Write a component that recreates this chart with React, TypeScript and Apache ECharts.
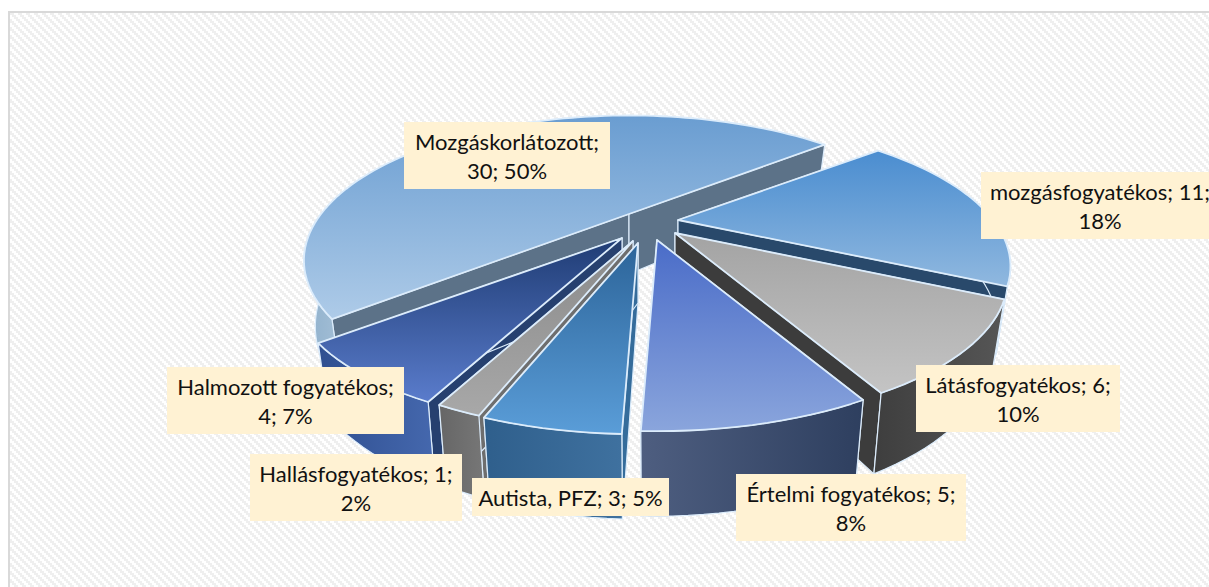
import React, { useEffect, useRef } from "react";
import * as echarts from "echarts";

const categories = ["Mozgáskorlátozott", "mozgásfogyatékos", "Látásfogyatékos", "Értelmi fogyatékos", "Autista, PFZ", "Hallásfogyatékos", "Halmozott fogyatékos"];
const values = [30, 11, 6, 5, 3, 1, 4];
const percents = [50, 18, 10, 8, 5, 2, 7];
const breakAfter = [1, 2, 2, 2, 3, 2, 1];

const apexes = [[629, 214], [678, 220], [675, 233], [657, 240], [638, 243], [633, 241], [622, 238]];
const radiiX = [308, 315, 315, 315, 315, 315, 315];
const paintOrder = [0, 1, 2, 6, 5, 4, 3];
const labelBoxes = [[404, 122, 206, 67], [981, 172, 260, 67], [916, 365, 204, 67], [736, 474, 230, 67], [472, 478, 197, 38], [250, 454, 212, 67], [167, 367, 237, 67]];
const labelCenters = [507, 1100, 1018, 851, 570.5, 356, 285.5];
const topColors = [["#6a9dd1", "#aecbe8"], ["#4a8dd0", "#90b8df"], ["#a3a3a3", "#c4c4c4"], ["#4a6cc8", "#8aa5dc"], ["#2c6499", "#5a9dd8"], ["#8a8a8a", "#a8a8a8"], ["#1f3c74", "#5a7ccc"]];
const outerWallColors = [["#8fb0cc", "#a4bfd6"], ["#29496b", "#29496b"], ["#3e3e3e", "#565656"], ["#4e5e80", "#2e3f5f"], ["#2f5f8c", "#3f719f"], ["#666666", "#777777"], ["#2f4f90", "#4568ae"]];
const radialWallColors = ["#5c7288", "#29496b", "#3c3c3c", "#3a4a6a", "#356c9b", "#6e6e6e", "#26406f"];

const START_ANGLE = 230;
const PERSPECTIVE = 0.32;
const RADIUS_Y = 130;

function project(apex: number[], rx: number, deg: number) {
  const a = (deg * Math.PI) / 180;
  const u = Math.sin(a);
  const v = -Math.cos(a);
  const w = 1 - PERSPECTIVE * v;
  return { x: apex[0] + (rx * u) / w, y: apex[1] + (RADIUS_Y * v) / w, d: v / w };
}
function lower(p: { x: number; y: number; d: number }, apex: number[]) {
  return [apex[0] + (p.x - apex[0]) * 0.965, p.y + 60 + 17 * p.d];
}
function linear(x0: number, y0: number, x1: number, y1: number, c: string[]) {
  return new echarts.graphic.LinearGradient(x0, y0, x1, y1, [
    { offset: 0, color: c[0] },
    { offset: 1, color: c[1] },
  ]);
}

function renderItem(params: any, api: any) {
  const i = params.dataIndex;
  const total = values.reduce((s, n) => s + n, 0);
  const before = values.slice(0, i).reduce((s, n) => s + n, 0);
  const val = api.value(0);
  const a0 = START_ANGLE + (before / total) * 360;
  const a1 = a0 + (val / total) * 360;
  const apex = apexes[i];
  const arc: { x: number; y: number; d: number }[] = [];
  const steps = Math.max(6, Math.ceil((a1 - a0) / 2));
  for (let k = 0; k <= steps; k++) arc.push(project(apex, radiiX[i], a0 + ((a1 - a0) * k) / steps));
  const c = { x: apex[0], y: apex[1], d: 0 };
  const cl = lower(c, apex);
  const order = paintOrder.indexOf(i);
  const base = (order + 1) * 10;
  const edge = "#dcecfb";
  const children: any[] = [];
  const face = (p: any, z: number) => {
    const pl = lower(p, apex);
    children.push({
      type: "polygon",
      z2: z,
      shape: { points: [[c.x, c.y], [p.x, p.y], pl, cl] },
      style: { fill: radialWallColors[i], stroke: edge, lineWidth: 1.2, lineJoin: "round" },
    });
  };
  face(arc[0], base);
  face(arc[arc.length - 1], base + 1);
  // only the part of the rim that faces the viewer
  const front = arc.filter((p) => p.d >= -0.05);
  if (front.length > 1) {
    const wallPts: number[][] = front.map((p) => [p.x, p.y]);
    for (let k = front.length - 1; k >= 0; k--) wallPts.push(lower(front[k], apex));
    children.push({
      type: "polygon",
      z2: base + 2,
      shape: { points: wallPts },
      style: { fill: linear(0, 0, 1, 0, outerWallColors[i]), stroke: edge, lineWidth: 1.2, lineJoin: "round" },
    });
  }
  const topPts: number[][] = [[c.x, c.y], ...arc.map((p) => [p.x, p.y])];
  children.push({
    type: "polygon",
    z2: base + 3,
    shape: { points: topPts },
    style: { fill: linear(0, 0, 0, 1, topColors[i]), stroke: edge, lineWidth: 1.8, lineJoin: "round" },
  });
  const box = labelBoxes[i];
  const parts = [categories[i] + ";", val + ";", percents[i] + "%"];
  const b = breakAfter[i];
  const text = b >= 3 ? parts.join(" ") : parts.slice(0, b).join(" ") + "\n" + parts.slice(b).join(" ");
  children.push({
    type: "rect",
    z2: 200,
    shape: { x: box[0], y: box[1], width: box[2], height: box[3] },
    style: { fill: "#fff2d3" },
  });
  children.push({
    type: "text",
    z2: 201,
    style: {
      x: labelCenters[i],
      y: box[1] + box[3] / 2,
      text,
      align: "center",
      verticalAlign: "middle",
      fontFamily: "Lato",
      fontSize: 22,
      lineHeight: 29,
      fill: "#111111",
    },
  });
  return { type: "group", children };
}

function hatch() {
  let rects = "";
  for (let y = 0; y < 4; y++) {
    for (let x = 0; x < 4; x++) {
      if (((x - y + 4) % 4) < 2) rects += `<rect x='${x * 2}' y='${y * 2}' width='2' height='2' fill='#efefef'/>`;
    }
  }
  return `<svg xmlns='http://www.w3.org/2000/svg' width='8' height='8' shape-rendering='crispEdges'><rect width='8' height='8' fill='#ffffff'/>${rects}</svg>`;
}

export default function App() {
  const ref = useRef<HTMLDivElement>(null);
  useEffect(() => {
    document.body.style.margin = "0";
    const chart = echarts.init(ref.current!, undefined, { renderer: "svg" });
    chart.setOption({
      animation: false,
      backgroundColor: "transparent",
      graphic: [
        { type: "rect", z: -1, shape: { x: 9, y: 12, width: 1400, height: 800 }, style: { fill: "none", stroke: "#d9d9d9", lineWidth: 2 } },
      ],
      series: [
        {
          type: "custom",
          coordinateSystem: "none",
          renderItem,
          clip: false,
          silent: true,
          data: values.map((v) => [v]),
        },
      ],
    });
    return () => chart.dispose();
  }, []);
  return (
    <div style={{ position: "relative", width: 1209, height: 587, overflow: "hidden", background: "#fff" }}>
      <div style={{ position: "absolute", left: 10, top: 13, right: 0, bottom: 0, backgroundImage: `url("data:image/svg+xml,${encodeURIComponent(hatch())}")` }} />
      <div ref={ref} style={{ position: "absolute", left: 0, top: 0, width: 1209, height: 587 }} />
    </div>
  );
}
